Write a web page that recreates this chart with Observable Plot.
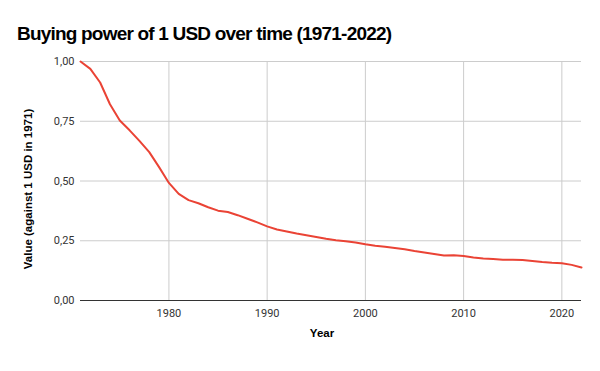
<!DOCTYPE html>
<html>
<head>
<meta charset="utf-8">
<script src="https://cdn.jsdelivr.net/npm/d3@7"></script>
<script src="https://cdn.jsdelivr.net/npm/@observablehq/plot@0.6"></script>
<style>
  html, body { margin: 0; padding: 0; background: #fff; }
  #wrap { width: 600px; height: 371px; position: relative; overflow: hidden; }
  #title { position: absolute; left: 17px; top: 0; height: 50px; line-height: 1; 
    font-family: "Liberation Sans", Arial, sans-serif; font-weight: bold; font-size: 19px; letter-spacing: -0.8px; color: #000;
    padding-top: 24px; box-sizing: border-box; white-space: nowrap; }
  #chart { position: absolute; left: 0; top: 50px; }
</style>
</head>
<body>
<div id="wrap">
  <div id="title">Buying power of 1 USD over time (1971-2022)</div>
  <div id="chart"></div>
</div>
<script>
const years = [1971,1972,1973,1974,1975,1976,1977,1978,1979,1980,
  1981,1982,1983,1984,1985,1986,1987,1988,1989,1990,
  1991,1992,1993,1994,1995,1996,1997,1998,1999,2000,
  2001,2002,2003,2004,2005,2006,2007,2008,2009,2010,
  2011,2012,2013,2014,2015,2016,2017,2018,2019,2020,
  2021,2022];
const values = [1.000,0.969,0.912,0.821,0.753,0.712,0.668,0.621,0.558,0.492,
  0.446,0.420,0.407,0.390,0.376,0.370,0.357,0.342,0.327,0.310,
  0.297,0.289,0.280,0.273,0.266,0.258,0.252,0.248,0.243,0.235,
  0.229,0.225,0.220,0.214,0.207,0.201,0.195,0.188,0.189,0.186,
  0.180,0.176,0.174,0.171,0.171,0.169,0.165,0.161,0.158,0.156,
  0.149,0.138];
const xTicks = [1980,1990,2000,2010,2020];
const yTicks = [0,0.25,0.5,0.75,1];
const xLabel = "Year";
const yLabel = "Value (against 1 USD in 1971)";

const data = years.map((y, i) => ({year: y, value: values[i]}));
const fmtY = d => d3.format(".2f")(d).replace(".", ",");

const chart = Plot.plot({
  width: 600,
  height: 321,
  marginTop: 11,
  marginBottom: 71,
  marginLeft: 80,
  marginRight: 19,
  style: {fontFamily: "Roboto, sans-serif", fontSize: "11px", color: "#333", background: "#fff", overflow: "visible"},
  x: {domain: [1971, 2022], label: null},
  y: {domain: [0, 1], label: null},
  marks: [
    Plot.gridY(yTicks, {stroke: "#ccc", strokeOpacity: 1}),
    Plot.gridX(xTicks, {stroke: "#ccc", strokeOpacity: 1}),
    Plot.axisY(yTicks, {tickSize: 0, tickPadding: 6, tickFormat: fmtY, label: null}),
    Plot.axisX(xTicks, {tickSize: 0, tickPadding: 9, tickFormat: d => String(d), label: null}),
    Plot.ruleY([0], {stroke: "#333", strokeWidth: 1}),
    Plot.line(data, {x: "year", y: "value", stroke: "#ea4335", strokeWidth: 2}),
    Plot.text([xLabel], {frameAnchor: "bottom", dy: 36, dx: -9, fontWeight: "bold", fill: "#000",
      fontFamily: "Liberation Sans, Arial, sans-serif", fontSize: 11.5}),
    Plot.text([yLabel], {frameAnchor: "left", textAnchor: "middle", rotate: -90, dx: -52, dy: 8, fontWeight: "bold", fill: "#000",
      fontFamily: "Liberation Sans, Arial, sans-serif", fontSize: 11.5})
  ]
});
document.getElementById("chart").appendChild(chart);
</script>
</body>
</html>
